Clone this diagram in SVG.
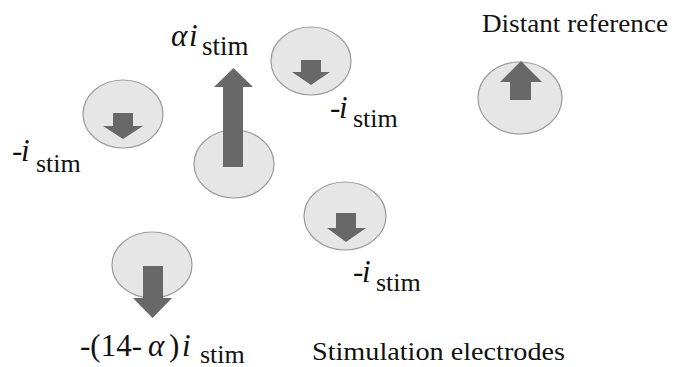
<svg xmlns="http://www.w3.org/2000/svg" width="675" height="367" viewBox="0 0 675 367">
<style>
.el{fill:#e6e6e6;stroke:#9a9a9a;stroke-width:1.2}
.ar{fill:#686868}
</style>
<rect width="675" height="367" fill="#fff"/>
<g id="connectors"></g>
<g id="e1">
<ellipse class="el" cx="123" cy="114" rx="40" ry="34"/>
<path class="ar" d="M113,113 H133 V126 H143 L123,139 L103,126 H113 Z"/>
<text font-family="Liberation Serif, DejaVu Serif, serif" fill="#111" font-size="31" y="161"><tspan x="12">-</tspan><tspan x="21" font-style="italic">i</tspan><tspan x="36" y="172" font-size="26">stim</tspan></text>
</g>
<g id="e2">
<ellipse class="el" cx="234" cy="164" rx="40" ry="34"/>
<path class="ar" d="M223,167 V87 H214 L233.5,68 L253,87 H243 V167 Z"/>
<text font-family="Liberation Serif, DejaVu Serif, serif" fill="#111" font-size="31" y="46"><tspan x="171" font-style="italic">α</tspan><tspan x="189" font-style="italic">i</tspan><tspan x="202" y="55" font-size="27">stim</tspan></text>
</g>
<g id="e3">
<ellipse class="el" cx="311" cy="61" rx="40" ry="34"/>
<path class="ar" d="M301,60 H321 V72 H330 L311,85 L292,72 H301 Z"/>
<text font-family="Liberation Serif, DejaVu Serif, serif" fill="#111" font-size="31" y="118"><tspan x="330">-</tspan><tspan x="339" font-style="italic">i</tspan><tspan x="353" y="127" font-size="26">stim</tspan></text>
</g>
<g id="ref">
<ellipse class="el" cx="520" cy="98" rx="42" ry="36"/>
<path class="ar" d="M510,100 V82 H500 L521,61 L542,82 H531 V100 Z"/>
<text font-family="Liberation Serif, DejaVu Serif, serif" fill="#111" font-size="25" x="482" y="32" textLength="186" lengthAdjust="spacingAndGlyphs">Distant reference</text>
</g>
<g id="e4">
<ellipse class="el" cx="345" cy="216" rx="41" ry="34"/>
<path class="ar" d="M336,213 H356 V228 H366 L346,242 L327,228 H336 Z"/>
<text font-family="Liberation Serif, DejaVu Serif, serif" fill="#111" font-size="31" y="282"><tspan x="353">-</tspan><tspan x="362" font-style="italic">i</tspan><tspan x="376" y="291" font-size="26">stim</tspan></text>
</g>
<g id="e5">
<ellipse class="el" cx="152" cy="265" rx="40" ry="33"/>
<path class="ar" d="M143,266 H163 V298 H172 L152.5,318 L133,298 H143 Z"/>
<text font-family="Liberation Serif, DejaVu Serif, serif" fill="#111" font-size="31" y="356"><tspan x="80">-(14-</tspan><tspan x="148" font-style="italic">α</tspan><tspan x="169">)</tspan><tspan x="182" font-style="italic">i</tspan><tspan x="200" y="363" font-size="26">stim</tspan></text>
</g>
<g id="caption">
<text font-family="Liberation Serif, DejaVu Serif, serif" fill="#111" font-size="25" x="312" y="360" textLength="253" lengthAdjust="spacingAndGlyphs">Stimulation electrodes</text>
</g>
</svg>
